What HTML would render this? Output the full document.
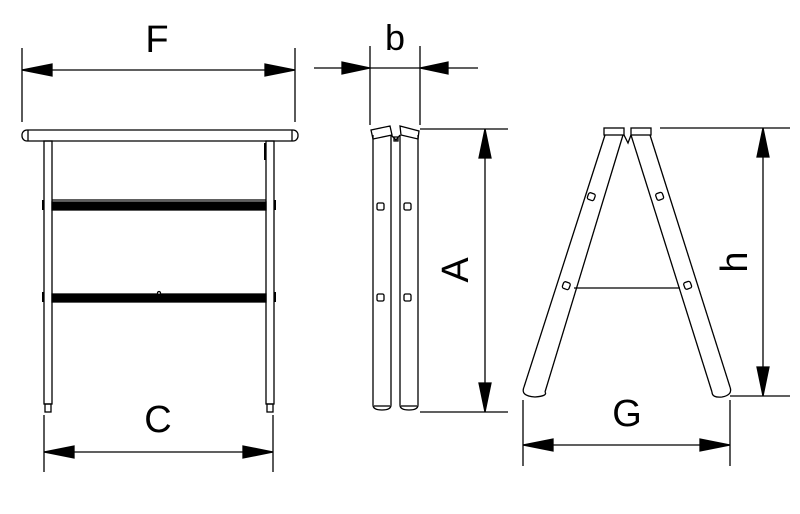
<!DOCTYPE html>
<html><head><style>body{margin:0;background:#fff}svg{display:block}</style></head><body>
<svg width="800" height="514" viewBox="0 0 800 514" xmlns="http://www.w3.org/2000/svg" font-family="Liberation Sans, sans-serif" stroke="#000" fill="none" stroke-width="1.3">
<!-- F -->
<line x1="22" y1="48" x2="22" y2="122"/><line x1="295" y1="48" x2="295" y2="122"/>
<line x1="22" y1="70" x2="295" y2="70"/>
<polygon points="22,70 52,64 52,76" fill="#000"/><polygon points="295,70 265,64 265,76" fill="#000"/>
<text x="157" y="52" font-size="38" text-anchor="middle" fill="#000" stroke="none">F</text>
<!-- b -->
<line x1="370" y1="46" x2="370" y2="125"/><line x1="420" y1="46" x2="420" y2="125"/>
<line x1="314" y1="68" x2="478" y2="68"/>
<polygon points="370,68 342,62 342,74" fill="#000"/><polygon points="420,68 448,62 448,74" fill="#000"/>
<text x="395" y="50" font-size="36" text-anchor="middle" fill="#000" stroke="none">b</text>
<!-- left view -->
<rect x="22" y="130" width="276" height="11" rx="5"/>
<line x1="28" y1="130" x2="28" y2="141"/><line x1="292" y1="130" x2="292" y2="141"/>
<rect x="44" y="141" width="8" height="263"/><rect x="266" y="141" width="8" height="263"/>
<rect x="45" y="404" width="6" height="8"/><rect x="267" y="404" width="6" height="8"/>
<line x1="52" y1="200" x2="266" y2="200"/>
<rect x="52" y="202" width="214" height="8" fill="#000"/>
<rect x="52" y="294" width="214" height="8" fill="#000"/>
<circle cx="159" cy="293" r="1.5" fill="#fff"/>
<line x1="43" y1="200" x2="43" y2="210" stroke-width="2"/><line x1="275" y1="200" x2="275" y2="210" stroke-width="2"/>
<line x1="43" y1="292" x2="43" y2="302" stroke-width="2"/><line x1="275" y1="292" x2="275" y2="302" stroke-width="2"/>
<line x1="265" y1="143" x2="265" y2="160" stroke-width="2"/>
<!-- C -->
<line x1="44" y1="415" x2="44" y2="472"/><line x1="273" y1="415" x2="273" y2="472"/>
<line x1="44" y1="452" x2="273" y2="452"/>
<polygon points="44,452 74,446 74,458" fill="#000"/><polygon points="273,452 243,446 243,458" fill="#000"/>
<text x="158" y="432" font-size="38" text-anchor="middle" fill="#000" stroke="none">C</text>
<!-- middle tubes -->
<path d="M373,135 L373,405 Q373,410 382,410 Q391,410 391,405 L391,135"/>
<path d="M400,135 L400,405 Q400,410 409,410 Q418,410 418,405 L418,135"/>
<polygon points="371,130 390,126 392,135 373,139"/>
<polygon points="400,126 419,131 418,139 401,135"/>
<path d="M391,135 L396,140 L400,135 M394,137 h4 v4 h-4z"/>
<rect x="377" y="203" width="7" height="7" rx="1.5"/><rect x="404" y="203" width="7" height="7" rx="1.5"/>
<rect x="377" y="294" width="7" height="7" rx="1.5"/><rect x="404" y="294" width="7" height="7" rx="1.5"/>
<line x1="374" y1="406" x2="390" y2="406"/><line x1="401" y1="406" x2="417" y2="406"/>
<!-- A -->
<line x1="420" y1="129" x2="508" y2="129"/><line x1="420" y1="412" x2="508" y2="412"/>
<line x1="485" y1="129" x2="485" y2="412"/>
<polygon points="485,129 479,158 491,158" fill="#000"/><polygon points="485,412 479,383 491,383" fill="#000"/>
<text transform="translate(468,270) rotate(-90)" font-size="38" text-anchor="middle" fill="#000" stroke="none">A</text>
<!-- A-frame -->
<rect x="604" y="128" width="20" height="7"/><rect x="631" y="128" width="20" height="7"/>
<line x1="605" y1="135" x2="524" y2="387"/><line x1="623" y1="135" x2="545" y2="392"/>
<line x1="631" y1="135" x2="712" y2="392"/><line x1="650" y1="135" x2="730" y2="387"/>
<path d="M524,387 Q520,396 535,397 Q548,396 545,392"/>
<path d="M712,392 Q712,398 722,397 Q733,395 730,387"/>
<path d="M624,135 L628,143 L631,135"/>
<line x1="574" y1="288" x2="680" y2="288"/>
<rect x="588" y="193" width="7" height="7" rx="2" transform="rotate(20 591 196)"/>
<rect x="656" y="193" width="7" height="7" rx="2" transform="rotate(-20 659 196)"/>
<rect x="563" y="282" width="7" height="7" rx="2" transform="rotate(20 566 285)"/>
<rect x="684" y="282" width="7" height="7" rx="2" transform="rotate(-20 687 285)"/>
<!-- h -->
<line x1="660" y1="128" x2="790" y2="128"/><line x1="730" y1="396" x2="790" y2="396"/>
<line x1="763" y1="128" x2="763" y2="396"/>
<polygon points="763,128 757,157 769,157" fill="#000"/><polygon points="763,396 757,367 769,367" fill="#000"/>
<text transform="translate(747,262) rotate(-90)" font-size="38" text-anchor="middle" fill="#000" stroke="none">h</text>
<!-- G -->
<line x1="523" y1="400" x2="523" y2="466"/><line x1="730" y1="400" x2="730" y2="466"/>
<line x1="523" y1="445" x2="730" y2="445"/>
<polygon points="523,445 553,439 553,451" fill="#000"/><polygon points="730,445 700,439 700,451" fill="#000"/>
<text x="627" y="426" font-size="38" text-anchor="middle" fill="#000" stroke="none">G</text>
</svg>
</body></html>
